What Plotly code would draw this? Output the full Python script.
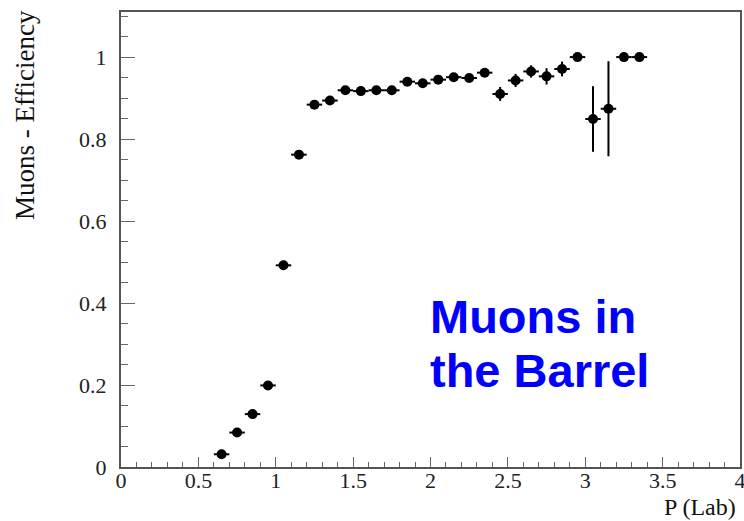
import plotly.graph_objects as go

p_lab = [0.65, 0.75, 0.85, 0.95, 1.05, 1.15, 1.25, 1.35, 1.45, 1.55, 1.65, 1.75, 1.85, 1.95,
         2.05, 2.15, 2.25, 2.35, 2.45, 2.55, 2.65, 2.75, 2.85, 2.95, 3.05, 3.15, 3.25, 3.35]
efficiency = [0.031, 0.084, 0.129, 0.199, 0.492, 0.762, 0.884, 0.894, 0.919, 0.917, 0.919, 0.919,
              0.940, 0.936, 0.945, 0.951, 0.949, 0.962, 0.910, 0.943, 0.965, 0.953, 0.971, 1.0,
              0.849, 0.874, 1.0, 1.0]
eff_err = [0.003, 0.004, 0.005, 0.006, 0.007, 0.007, 0.006, 0.006, 0.006, 0.006, 0.007, 0.007,
           0.007, 0.008, 0.008, 0.009, 0.009, 0.010, 0.017, 0.016, 0.015, 0.020, 0.018, 0.0,
           0.080, 0.116, 0.0, 0.0]
bin_half = [0.05] * len(p_lab)

fig = go.Figure()
fig.add_trace(go.Scatter(
    x=p_lab, y=efficiency, mode="markers",
    marker=dict(symbol="circle", size=10, color="black"),
    error_y=dict(type="data", array=eff_err, width=0, thickness=2, color="black"),
    error_x=dict(type="data", array=bin_half, width=0, thickness=2, color="black"),
    showlegend=False, hoverinfo="skip",
))

serif = "Liberation Serif"
axis_common = dict(
    showline=True, linecolor="#555", linewidth=2, mirror=True, automargin=False,
    showgrid=False, zeroline=False, ticks="inside", tickcolor="#666", tickwidth=1,
    tickfont=dict(family=serif, size=22, color="#222"), ticklabeloverflow="allow",
)
fig.update_xaxes(range=[0, 4], dtick=0.5, tick0=0, ticklen=10,
                 minor=dict(dtick=0.1, ticklen=5, ticks="inside", tickcolor="#666"),
                 ticklabelstandoff=-7,
                 **axis_common)
fig.update_yaxes(range=[0, 1.11], dtick=0.2, tick0=0, ticklen=14,
                 minor=dict(dtick=0.05, ticklen=7, ticks="inside", tickcolor="#666"),
                 ticklabelstandoff=8,
                 **axis_common)

fig.add_annotation(text="Muons - Efficiency", xref="paper", yref="paper",
                   x=-121/619 + 25/619, y=(467-115)/455, textangle=-90,
                   showarrow=False, xanchor="center", yanchor="middle",
                   font=dict(family=serif, size=27, color="#111"))
fig.add_annotation(text="P (Lab)", xref="paper", yref="paper",
                   x=(738-121)/619, y=-(507-467)/455, showarrow=False,
                   xanchor="right", yanchor="middle",
                   font=dict(family=serif, size=24, color="#111"))

blue = dict(family="Liberation Sans", size=47, color="#0000FF", weight="bold")
fig.add_annotation(text="<b>Muons in</b>", x=1.984, y=(467-317)/409.7, xref="x", yref="y",
                   showarrow=False, xanchor="left", yanchor="middle", font=blue)
fig.add_annotation(text="<b>the Barrel</b>", x=1.984, y=(467-370.5)/409.7, xref="x", yref="y",
                   showarrow=False, xanchor="left", yanchor="middle", font=blue)

fig.update_layout(
    width=744, height=521,
    margin=dict(l=121, r=4, t=12, b=54),
    plot_bgcolor="white", paper_bgcolor="white",
)
# remove the page's default body margin so the figure fills the window exactly
fig.write_html("out.html", config={"displayModeBar": False},
               post_script="document.body.style.margin='0';"
                           "document.body.style.overflow='hidden';")
